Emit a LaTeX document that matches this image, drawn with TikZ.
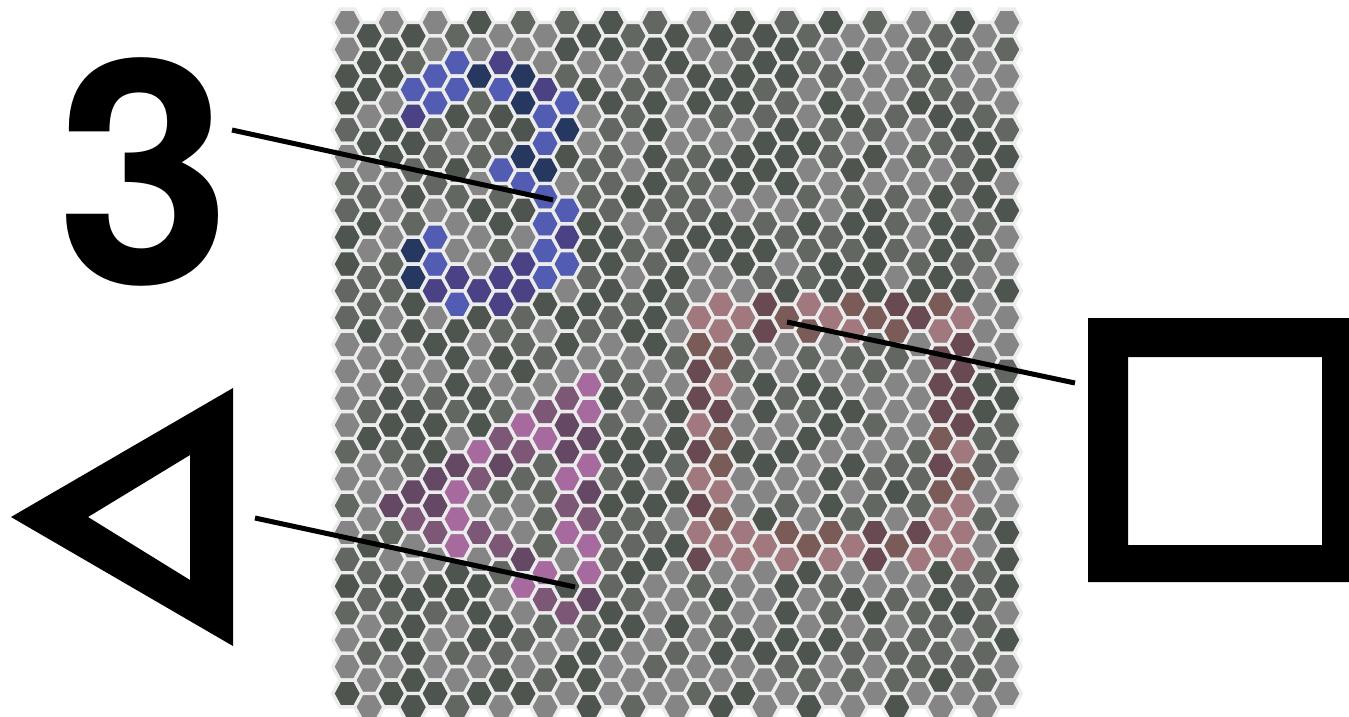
\documentclass[tikz,border=0pt]{standalone}
\usepackage{fontspec}
\setmainfont{TeX Gyre Heros}
\usetikzlibrary{calc}
\definecolor{hexlight}{RGB}{133,133,133}
\definecolor{hexmid}{RGB}{98,103,98}
\definecolor{hexdark}{RGB}{78,84,78}
\definecolor{hexedge}{RGB}{236,236,236}
\definecolor{hexblue}{RGB}{82,92,178}
\definecolor{hexnavy}{RGB}{38,56,96}
\definecolor{hexviolet}{RGB}{74,66,132}
\definecolor{hexpink}{RGB}{166,106,158}
\definecolor{hexmauve}{RGB}{124,88,118}
\definecolor{hexplum}{RGB}{100,72,100}
\definecolor{hexrose}{RGB}{160,120,126}
\definecolor{hexbrown}{RGB}{122,91,88}
\definecolor{hexmaroon}{RGB}{106,74,82}
% mark the coloured cells: column/row
\newcommand{\markcells}[2]{\foreach \hc/\hr in {#2}{\expandafter\xdef\csname hx@\hc @\hr\endcsname{#1}}}
% digit three
\markcells{hexblue}{5/1,4/2,3/2,5/2,7/2,4/3,10/3,9/3,9/4,7/5,8/6,9/6,10/7,9/7,4/8,9/8,4/9,10/9,9/9,5/10}
\markcells{hexnavy}{6/2,8/2,8/3,10/4,8/5,9/5,3/8,3/9}
\markcells{hexviolet}{7/1,9/2,3/3,10/8,8/9,5/9,7/9,4/10,6/10,8/10,7/10}
% triangle
\markcells{hexpink}{11/13,11/14,8/15,9/15,6/16,11/16,10/17,5/17,5/18,10/19,5/19,11/19,9/20,11/20,8/21}
\markcells{hexmauve}{10/14,9/14,7/15,8/16,6/17,10/18,3/18,11/18,4/19,6/19,7/19,9/21,10/22}
\markcells{hexplum}{10/15,11/15,10/16,5/16,7/16,4/17,3/17,11/17,2/18,4/18,8/20,11/21}
% square
\markcells{hexrose}{17/10,21/10,16/11,18/11,22/11,28/11,17/11,23/11,27/11,17/13,16/15,28/16,16/17,17/17,28/18,27/18,18/19,28/19,17/19,19/19,23/19,27/19,18/20,20/20,22/20,26/20,28/20,16/19}
\markcells{hexbrown}{23/10,27/10,20/11,24/11,21/11,25/11,16/12,17/12,17/15,27/15,17/16,28/17,27/17,17/18,20/19,22/19,21/19,25/19}
\markcells{hexmaroon}{19/10,25/10,26/11,19/11,28/12,27/12,16/13,28/13,27/13,16/14,28/14,17/14,27/14,28/15,16/16,27/16,16/18,24/19,26/19,16/20,24/20}

\begin{document}
\begin{tikzpicture}[x={(1pt,0pt)}, y={(0pt,-1pt)},
    hexcell/.style={draw=hexedge, line width=3.4pt},
    pointer/.style={line width=5pt, black},
    bigsym/.style={fill=black, even odd rule},
    digitlabel/.style={font=\fontsize{312}{312}\selectfont\bfseries, inner sep=0pt, anchor=base}]
  \useasboundingbox (0,0) rectangle (1349,716);
  \fill[white] (0,0) rectangle (1349,716);

  % hexagon grid
  \pgfmathsetseed{11}
  \foreach \hc in {0,...,30}{
    \foreach \hr in {0,...,25}{
      \pgfmathsetmacro{\hx}{347.3+21.98*\hc}
      \pgfmathsetmacro{\hy}{22.5+26.84*\hr+13.42*mod(\hc,2)}
      \pgfmathrandominteger{\shade}{1}{3}
      \ifcsname hx@\hc @\hr\endcsname
        \edef\hcol{\csname hx@\hc @\hr\endcsname}
      \else
        \edef\hcol{\ifcase\shade\or hexlight\or hexmid\else hexdark\fi}
      \fi
      \filldraw[hexcell, fill=\hcol, shift={(\hx,\hy)}]
        (14.65,0) -- (7.33,13.42) -- (-7.33,13.42) -- (-14.65,0)
        -- (-7.33,-13.42) -- (7.33,-13.42) -- cycle;
    }
  }

  % labels
  \node[digitlabel] (three) at (144,283) {3};
  \fill[bigsym] (11,517) -- (233,388) -- (233,646) -- cycle
    (88,517) -- (190,455) -- (190,580) -- cycle;
  \fill[bigsym] (1088,318) rectangle (1360,582)
    (1128,357) rectangle (1322,545);

  \coordinate (threeend) at (232,130);
  \coordinate (threecell) at (553,200);
  \coordinate (triend) at (255,518);
  \coordinate (tricell) at (575,587);
  \coordinate (sqend) at (1075,383);
  \coordinate (sqcell) at (787,322);
  \draw[pointer] (threeend) -- (threecell);
  \draw[pointer] (triend) -- (tricell);
  \draw[pointer] (sqend) -- (sqcell);
\end{tikzpicture}
\end{document}
